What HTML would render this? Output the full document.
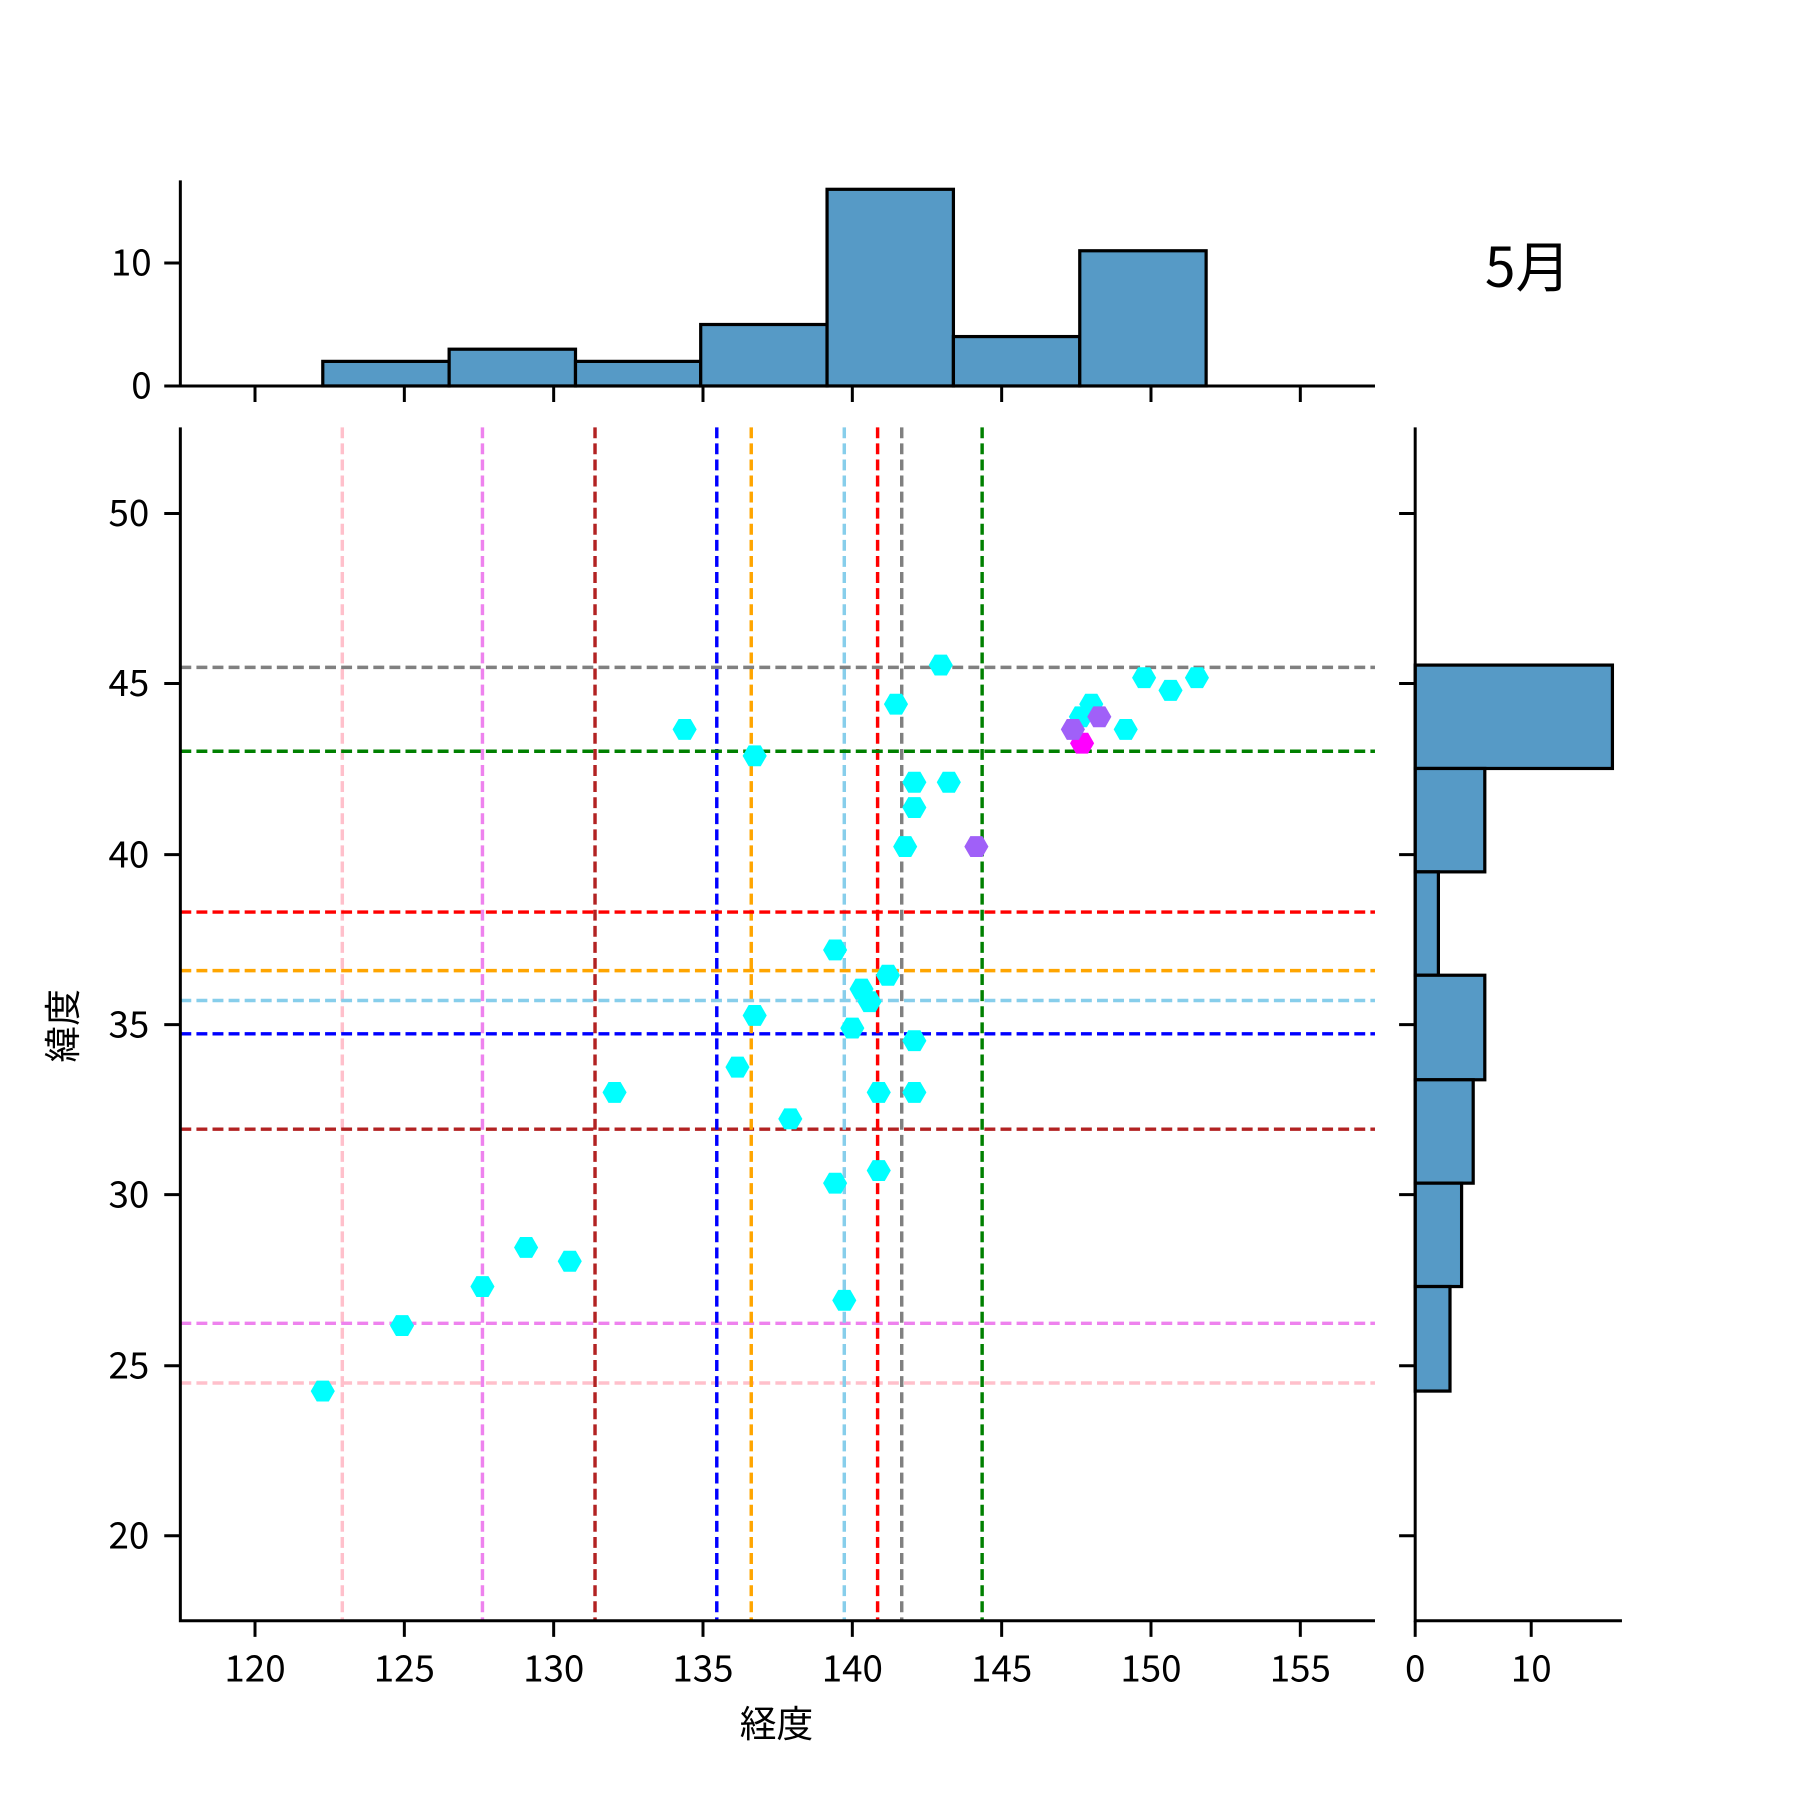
<!DOCTYPE html>
<html><head><meta charset="utf-8"><style>
html,body{margin:0;padding:0;background:#fff}
svg{display:block}
text{font-family:"Noto Sans CJK JP","Liberation Sans",sans-serif;fill:#000}
</style></head><body>
<svg width="1800" height="1800" viewBox="0 0 1567 1567" xmlns="http://www.w3.org/2000/svg">
<defs>
<polygon id="hx" points="10.5,0 5.25,-9.1 -5.25,-9.1 -10.5,0 -5.25,9.1 5.25,9.1"/>
</defs>
<rect width="1567" height="1567" fill="#fff"/>
<!-- top histogram -->
<g fill="#569ac6" stroke="#000" stroke-width="2.8">
<rect x="281" y="314.6" width="110" height="21.4"/>
<rect x="391" y="304" width="110" height="32"/>
<rect x="501" y="314.6" width="109" height="21.4"/>
<rect x="610" y="282.5" width="110" height="53.5"/>
<rect x="720" y="164.8" width="110" height="171.2"/>
<rect x="830" y="293" width="110" height="43"/>
<rect x="940" y="218.3" width="110" height="117.7"/>
</g>
<g stroke="#000" stroke-width="2.6" fill="none">
<path d="M157,157V336H1197"/>
<path d="M143,336H157M143,229H157"/>
<path d="M222,336v14M352,336v14M482,336v14M612,336v14M742,336v14M872,336v14M1002,336v14M1132,336v14"/>
</g>
<g font-size="32" text-anchor="end">
<text x="132" y="347">0</text>
<text x="132" y="240">10</text>
</g>
<text x="1330" y="250" font-size="48" text-anchor="middle">5月</text>
<!-- right histogram -->
<g fill="#569ac6" stroke="#000" stroke-width="2.8">
<rect x="1232" y="579" width="171.7" height="90"/>
<rect x="1232" y="669" width="60.6" height="90"/>
<rect x="1232" y="759" width="20.2" height="90"/>
<rect x="1232" y="849" width="60.6" height="91"/>
<rect x="1232" y="940" width="50.5" height="90"/>
<rect x="1232" y="1030" width="40.4" height="90"/>
<rect x="1232" y="1120" width="30.3" height="91"/>
</g>
<g stroke="#000" stroke-width="2.6" fill="none">
<path d="M1232,372V1411H1412"/>
<path d="M1232,1411v14M1333,1411v14"/>
<path d="M1218,447h14M1218,595h14M1218,744h14M1218,892h14M1218,1040h14M1218,1189h14M1218,1337h14"/>
</g>
<g font-size="32" text-anchor="middle">
<text x="1232" y="1464">0</text>
<text x="1333" y="1464">10</text>
</g>
<!-- main dashed lines -->
<g stroke-width="3" stroke-dasharray="9.5,4.5" fill="none">
<path stroke="#ffc0cb" d="M298,372V1411M157,1204H1197"/>
<path stroke="#ee82ee" d="M420,372V1411M157,1152H1197"/>
<path stroke="#b22222" d="M518,372V1411M157,983H1197"/>
<path stroke="#0000ff" d="M624,372V1411M157,900H1197"/>
<path stroke="#ffa500" d="M654,372V1411M157,845H1197"/>
<path stroke="#87ceeb" d="M735,372V1411M157,871H1197"/>
<path stroke="#ff0000" d="M764,372V1411M157,794H1197"/>
<path stroke="#808080" d="M785,372V1411M157,581H1197"/>
<path stroke="#008000" d="M855,372V1411M157,654H1197"/>
</g>
<!-- points -->
<g fill="#00ffff">
<use href="#hx" x="281" y="1211"/><use href="#hx" x="350" y="1154"/><use href="#hx" x="420" y="1120"/>
<use href="#hx" x="458" y="1086"/><use href="#hx" x="496" y="1098"/><use href="#hx" x="535" y="951"/>
<use href="#hx" x="596" y="635"/><use href="#hx" x="642" y="929"/><use href="#hx" x="657" y="884"/>
<use href="#hx" x="657" y="658"/><use href="#hx" x="688" y="974"/><use href="#hx" x="727" y="827"/>
<use href="#hx" x="727" y="1030"/><use href="#hx" x="735" y="1132"/><use href="#hx" x="742" y="895"/>
<use href="#hx" x="750" y="861"/><use href="#hx" x="757" y="872"/><use href="#hx" x="765" y="951"/>
<use href="#hx" x="765" y="1019"/><use href="#hx" x="773" y="849"/><use href="#hx" x="780" y="613"/>
<use href="#hx" x="788" y="737"/><use href="#hx" x="796" y="681"/><use href="#hx" x="796" y="703"/>
<use href="#hx" x="796" y="906"/><use href="#hx" x="796" y="951"/><use href="#hx" x="819" y="579"/>
<use href="#hx" x="826" y="681"/><use href="#hx" x="941" y="624"/><use href="#hx" x="950" y="613"/>
<use href="#hx" x="980" y="635"/><use href="#hx" x="996" y="590"/><use href="#hx" x="1019" y="601"/>
<use href="#hx" x="1042" y="590"/>
</g>
<g fill="#ff00ff"><use href="#hx" x="942" y="647"/></g>
<g fill="#a060f8"><use href="#hx" x="934" y="635"/><use href="#hx" x="957" y="624"/><use href="#hx" x="850" y="737"/></g>
<!-- main axes -->
<g stroke="#000" stroke-width="2.6" fill="none">
<path d="M157,372V1411H1197"/>
<path d="M222,1411v14M352,1411v14M482,1411v14M612,1411v14M742,1411v14M872,1411v14M1002,1411v14M1132,1411v14"/>
<path d="M143,447h14M143,595h14M143,744h14M143,892h14M143,1040h14M143,1189h14M143,1337h14"/>
</g>
<g font-size="32" text-anchor="middle">
<text x="222" y="1464">120</text><text x="352" y="1464">125</text><text x="482" y="1464">130</text>
<text x="612" y="1464">135</text><text x="742" y="1464">140</text><text x="872" y="1464">145</text>
<text x="1002" y="1464">150</text><text x="1132" y="1464">155</text>
</g>
<g font-size="32" text-anchor="end">
<text x="130" y="458">50</text><text x="130" y="606">45</text><text x="130" y="755">40</text>
<text x="130" y="903">35</text><text x="130" y="1051">30</text><text x="130" y="1200">25</text>
<text x="130" y="1348">20</text>
</g>
<text x="676" y="1512" font-size="32" text-anchor="middle">経度</text>
<text x="0" y="0" font-size="32" text-anchor="middle" transform="translate(66,893) rotate(-90)">緯度</text>
</svg>
</body></html>
